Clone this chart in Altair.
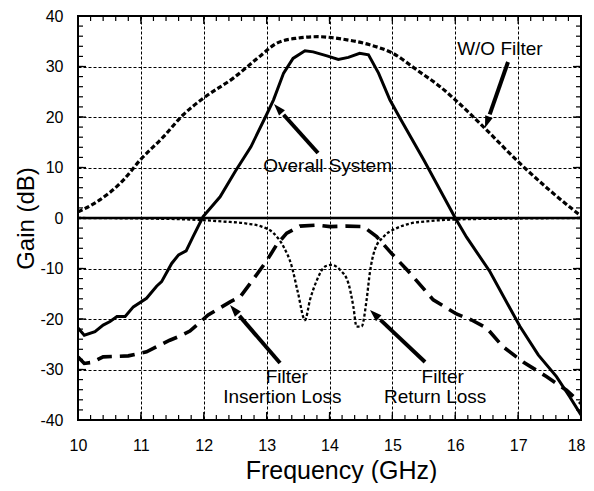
import math
import altair as alt
import numpy as np
import pandas as pd

# ---------------- data ----------------
overall_f = [10.0, 10.1, 10.27, 10.4, 10.51, 10.62, 10.75, 10.88, 11.09, 11.25, 11.33, 11.49,
             11.6, 11.72, 11.83, 11.99, 12.26, 12.5, 12.75, 13.0, 13.11, 13.27, 13.42, 13.61,
             13.74, 13.96, 14.14, 14.3, 14.48, 14.62, 14.78, 14.96, 15.12, 15.5, 16.0, 16.18,
             16.55, 17.03, 17.32, 17.61, 17.82, 18.0]
overall_g = [-21.8, -23.2, -22.5, -21.2, -20.5, -19.5, -19.5, -17.6, -15.9, -13.5, -12.6, -9.0,
             -7.3, -6.5, -3.7, 0.3, 4.2, 9.2, 14.1, 20.5, 23.4, 28.7, 31.6, 33.1,
             32.9, 32.1, 31.4, 31.8, 32.6, 32.3, 28.7, 23.4, 19.8, 11.5, 0.0, -3.8,
             -10.6, -21.5, -27.1, -31.4, -35.4, -39.0]

wo_f = [10.0, 10.3, 10.72, 10.99, 11.36, 11.67, 11.99, 12.47, 12.89, 13.16, 13.48, 13.82,
        14.22, 14.64, 15.01, 15.39, 15.76, 16.0, 16.5, 17.03, 17.5, 18.0]
wo_g = [1.2, 3.2, 7.5, 11.5, 16.1, 20.4, 23.7, 27.7, 32.0, 34.6, 35.6, 35.9,
        35.4, 34.3, 32.6, 29.3, 26.0, 23.4, 17.4, 10.8, 5.5, 0.4]

il_f = [10.0, 10.1, 10.22, 10.4, 10.8, 11.09, 11.46, 11.62, 11.78, 12.07, 12.42, 12.58,
        12.76, 13.0, 13.16, 13.32, 13.53, 13.8, 14.01, 14.27, 14.54, 14.75, 15.0, 15.25,
        15.65, 16.02, 16.26, 16.5, 16.76, 17.08, 17.45, 17.77, 18.0]
il_g = [-27.5, -28.8, -28.6, -27.5, -27.3, -26.5, -24.2, -23.4, -22.4, -19.2, -16.6, -15.6,
        -12.6, -8.5, -5.3, -3.0, -1.6, -1.4, -1.7, -1.6, -1.7, -3.7, -7.2, -10.5,
        -16.2, -19.0, -20.2, -21.8, -25.5, -28.5, -31.4, -34.1, -36.7]

rl_f = [10.0, 11.0, 11.78, 12.31, 12.68, 12.92, 13.11, 13.27, 13.4, 13.5, 13.61, 13.69,
        13.8, 13.93, 14.03, 14.17, 14.3, 14.38, 14.43, 14.51, 14.59, 14.64, 14.72, 14.86,
        15.07, 15.28, 15.6, 16.0, 17.0, 18.0]
rl_g = [0.0, -0.1, -0.3, -0.7, -1.1, -1.7, -3.0, -5.7, -9.6, -14.9, -20.2, -16.2,
        -12.3, -9.6, -9.3, -10.3, -12.9, -17.6, -21.5, -21.5, -16.2, -11.0, -6.3, -3.7,
        -2.0, -1.1, -0.6, -0.3, -0.1, 0.0]

x_ticks = [10, 11, 12, 13, 14, 15, 16, 17, 18]
y_ticks = [-40, -30, -20, -10, 0, 10, 20, 30, 40]

label_text = ["Overall System", "W/O Filter", "Filter", "Insertion Loss", "Filter", "Return Loss"]
label_f = [13.97, 16.71, 13.32, 13.25, 15.80, 15.68]
label_g = [9.1, 32.3, -32.7, -36.6, -32.7, -36.6]

arrow_tail_f = [13.817, 16.839, 13.213, 15.519]
arrow_tail_g = [12.87, 30.89, -28.71, -28.51]
arrow_tip_f = [13.117, 16.473, 12.418, 14.644]
arrow_tip_g = [22.57, 17.82, -17.23, -18.22]

# ---------------- layout ----------------
W, H = 503, 404
XD, YD = [10, 18], [-40, 40]
FONT = "Liberation Sans"
PXX = W / (XD[1] - XD[0])
PXY = H / (YD[1] - YD[0])

xs = alt.Scale(domain=XD, nice=False, zero=False)
ys = alt.Scale(domain=YD, nice=False, zero=False)

common = dict(grid=True, gridColor="black", gridDash=[3, 2], gridWidth=1, gridOpacity=1,
              ticks=False, tickSize=0, domain=False, labelFontSize=16, labelFont=FONT,
              labelColor="black", labelFlush=False, labelOverlap=False,
              labelExpr="'' + datum.value", titleFont=FONT, titleFontWeight="normal",
              titleColor="black", titleBaseline="alphabetic")
last_x = XD[1]
xaxis = alt.Axis(values=x_ticks, labelPadding=17, title="Frequency (GHz)", titleFontSize=25,
                 titleX=263, titleY=58,
                 labelAlign={"condition": {"test": f"datum.value == {last_x}", "value": "right"},
                             "value": "center"},
                 labelOffset={"condition": {"test": f"datum.value == {last_x}", "value": 4},
                              "value": 0},
                 **common)
yaxis = alt.Axis(values=y_ticks, labelPadding=15, title="Gain (dB)", titleFontSize=24,
                 titleX=-45, titleY=202, titleAngle=270, **common)


def X(field):
    return alt.X(f"{field}:Q", scale=xs, axis=xaxis)


def Y(field):
    return alt.Y(f"{field}:Q", scale=ys, axis=yaxis)


def series(f, g):
    return pd.DataFrame({"f": f, "g": g})


def curve(df, width, dash=None, interp="linear"):
    kw = dict(color="black", strokeWidth=width, interpolate=interp, clip=True)
    if dash:
        kw["strokeDash"] = dash
    return alt.Chart(df).mark_line(**kw).encode(x=X("f"), y=Y("g"))


zero_line = alt.Chart(series(XD, [0, 0])).mark_line(color="black", strokeWidth=2.5).encode(
    x=X("f"), y=Y("g"))

wo = curve(series(wo_f, wo_g), 3.2, [5, 2.5], "monotone")
rl = curve(series(rl_f, rl_g), 2.3, [3, 2.2], "monotone")
il = curve(series(il_f, il_g), 3.6, [15, 8])
ov = curve(series(overall_f, overall_g), 3)

# ---- inward ticks ----
minor_x = [round(v, 2) for v in np.arange(XD[0], XD[1] + 0.001, 0.2)]
minor_y = [round(v, 2) for v in np.arange(YD[0], YD[1] + 0.001, 2)]


def xticks(vals, length):
    df = pd.DataFrame({"f": vals})
    top = alt.Chart(df).mark_rule(color="black", strokeWidth=1.2).encode(
        x=X("f"), y=alt.value(0), y2=alt.value(length))
    bot = alt.Chart(df).mark_rule(color="black", strokeWidth=1.2).encode(
        x=X("f"), y=alt.value(H), y2=alt.value(H - length))
    return [top, bot]


def yticks(vals, length):
    df = pd.DataFrame({"g": vals})
    left = alt.Chart(df).mark_rule(color="black", strokeWidth=1.2).encode(
        y=Y("g"), x=alt.value(0), x2=alt.value(length))
    right = alt.Chart(df).mark_rule(color="black", strokeWidth=1.2).encode(
        y=Y("g"), x=alt.value(W), x2=alt.value(W - length))
    return [left, right]


tick_layers = xticks(minor_x, 5) + yticks(minor_y, 5) + xticks(x_ticks, 8) + yticks(y_ticks, 8)

# ---- annotations ----
labels = alt.Chart(pd.DataFrame({"f": label_f, "g": label_g, "t": label_text})).mark_text(
    font=FONT, fontSize=19, color="black", align="center", baseline="alphabetic").encode(
    x=X("f"), y=Y("g"), text="t:N")

HEAD = 24.0
rows = []
for tf, tg, hf, hg in zip(arrow_tail_f, arrow_tail_g, arrow_tip_f, arrow_tip_g):
    dx = (hf - tf) * PXX
    dy = -(hg - tg) * PXY
    L = math.hypot(dx, dy)
    ang = math.degrees(math.atan2(dx, -dy)) % 360
    back = HEAD * 0.6
    ef = hf - (dx / L) * back / PXX
    eg = hg + (dy / L) * back / PXY
    rows.append({"tf": tf, "tg": tg, "ef": ef, "eg": eg, "hf": hf, "hg": hg, "ang": ang})
arr = pd.DataFrame(rows)

shafts = alt.Chart(arr).mark_rule(color="black", strokeWidth=4, strokeCap="butt").encode(
    x=X("tf"), y=Y("tg"), x2="ef:Q", y2="eg:Q")

heads = alt.Chart(arr).mark_point(
    shape="M0,0 L0.66,2 L-0.66,2 Z", filled=True, color="black", opacity=1,
    size=(HEAD / 2) ** 2, strokeWidth=0).encode(
    x=X("hf"), y=Y("hg"), angle=alt.Angle("ang:Q", scale=None))

chart = alt.layer(
    zero_line, rl, *tick_layers, wo, il, ov, shafts, heads, labels
).properties(
    width=W, height=H,
    autosize=alt.AutoSizeParams(type="none"),
    padding={"left": 70, "top": 8, "right": 5, "bottom": 63},
    background="white",
).configure_view(stroke="black", strokeWidth=2)

chart.save("out.html", embed_options={"renderer": "svg", "actions": False})
